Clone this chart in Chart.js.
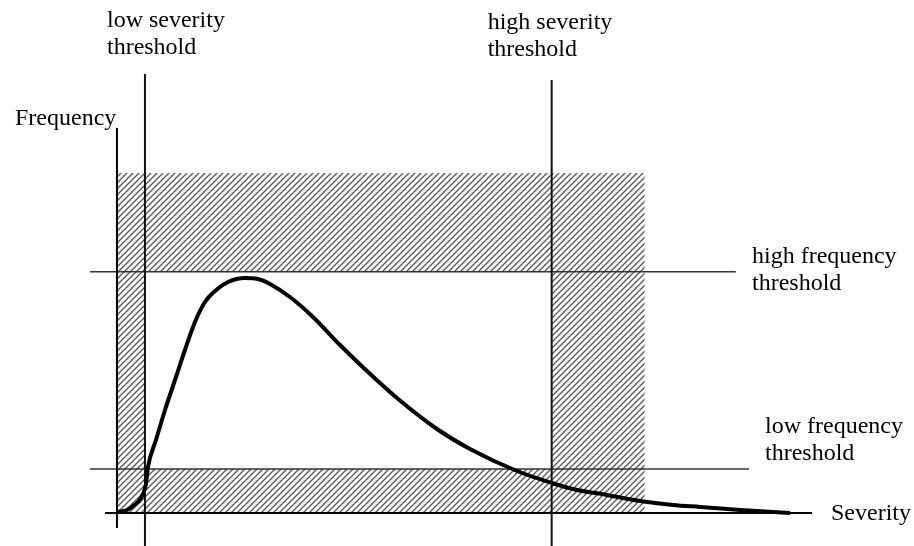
<!DOCTYPE html>
<html>
<head>
<meta charset="utf-8">
<script src="https://cdn.jsdelivr.net/npm/chart.js@4/dist/chart.umd.min.js"></script>
<style>
  body { margin:0; background:#fff; }
  #wrap { position:relative; width:914px; height:546px; }
</style>
</head>
<body>
<div id="wrap"><canvas id="c"></canvas></div>
<script>
// thresholds (severity / frequency units)
const lowSev = 0.4
const highSev = 6.21
const lowFreq = 1.1
const highFreq = 6.03
const hatchTop = 8.5
const hatchRight = 7.54

// the loss curve
const sevX = [0, 0.143, 0.229, 0.314, 0.371, 0.414, 0.443, 0.557, 0.686, 0.829, 0.971, 1.114, 1.257, 1.4, 1.586, 1.829, 2.014, 2.186, 2.471, 2.8, 3.186, 3.571, 4.0, 4.571, 5.043, 5.714, 6.214, 6.514, 7.0, 7.471, 7.943, 8.329, 8.9, 9.614]
const freqY = [0.025, 0.075, 0.175, 0.3, 0.475, 0.725, 1.15, 1.825, 2.575, 3.325, 4.075, 4.775, 5.275, 5.55, 5.775, 5.875, 5.85, 5.725, 5.4, 4.9, 4.2, 3.55, 2.875, 2.1, 1.6, 1.05, 0.75, 0.6, 0.45, 0.3, 0.2, 0.15, 0.075, 0]

const labelLow = ['low severity', 'threshold']
const labelHigh = ['high severity', 'threshold']
const labelHiF = ['high frequency', 'threshold']
const labelLoF = ['low frequency', 'threshold']

const hatch = (() => {
	const p = document.createElement('canvas')
	p.width = 6; p.height = 6
	const g = p.getContext('2d')
	g.strokeStyle = '#555'
	g.lineWidth = 1.3
	g.beginPath()
	g.moveTo(0, 6); g.lineTo(6, 0)
	g.moveTo(-1, 1); g.lineTo(1, -1)
	g.moveTo(5, 7); g.lineTo(7, 5)
	g.stroke()
	return g.createPattern(p, 'repeat')
})()

const seg = (pts, w, col, ord) => ({
	data: pts.map(a => ({x:a[0], y:a[1]})),
	showLine: true, pointRadius: 0, borderWidth: w, borderColor: col, fill: false, order: ord,
})
const box = (pts, to) => ({
	data: pts.map(a => ({x:a[0], y:a[1]})),
	showLine: true, pointRadius: 0, borderWidth: 0, borderColor: 'rgba(0,0,0,0)',
	backgroundColor: hatch, fill: {value: to}, order: 3,
})

const textPlugin = {
	id: 'texts',
	afterDraw(c) {
		const g = c.ctx, x = c.scales.x, y = c.scales.y
		g.save()
		g.fillStyle = '#000'
		g.font = '24px "Liberation Serif", "DejaVu Serif", serif'
		g.textBaseline = 'alphabetic'
		const put = (lines, px, py) => lines.forEach((t, i) => g.fillText(t, px, py + i * 27))
		put(labelLow, x.getPixelForValue(lowSev) - 38, 27)
		put(labelHigh, x.getPixelForValue(highSev) - 64, 29)
		put(labelHiF, 752, y.getPixelForValue(highFreq) - 9)
		put(labelLoF, 765, y.getPixelForValue(lowFreq) - 36)
		g.fillText('Frequency', 15, 125)
		g.fillText('Severity', 831, 520)
		g.restore()
	}
}

new Chart(document.getElementById('c'), {
	type: 'scatter',
	data: {
		datasets: [
			Object.assign(seg(sevX.map((v, i) => [v, freqY[i]]), 4, '#000', 0), {cubicInterpolationMode: 'monotone'}),
			seg([[-0.17, 0], [9.93, 0]], 2, '#000', 1),
			seg([[0, -0.375], [0, 9.625]], 2, '#000', 1),
			seg([[lowSev, -0.825], [lowSev, 10.975]], 2, '#111', 1),
			seg([[highSev, -0.825], [highSev, 10.825]], 2, '#111', 1),
			seg([[-0.386, highFreq], [8.84, highFreq]], 1.5, '#333', 1),
			seg([[-0.386, lowFreq], [9.03, lowFreq]], 1.5, '#333', 1),
			box([[0, hatchTop], [lowSev, hatchTop]], 0),
			box([[highSev, hatchTop], [hatchRight, hatchTop]], 0),
			box([[lowSev, hatchTop], [highSev, hatchTop]], highFreq),
			box([[lowSev, lowFreq], [highSev, lowFreq]], 0),
		]
	},
	options: {
		responsive: true,
		maintainAspectRatio: false,
		animation: false,
		layout: { padding: 0 },
		plugins: { legend: { display: false }, tooltip: { enabled: false } },
		scales: {
			x: { type: 'linear', min: -1.671, max: 11.386, display: false },
			y: { type: 'linear', min: -0.825, max: 12.825, display: false },
		},
	},
	plugins: [textPlugin],
})
</script>
</body>
</html>
